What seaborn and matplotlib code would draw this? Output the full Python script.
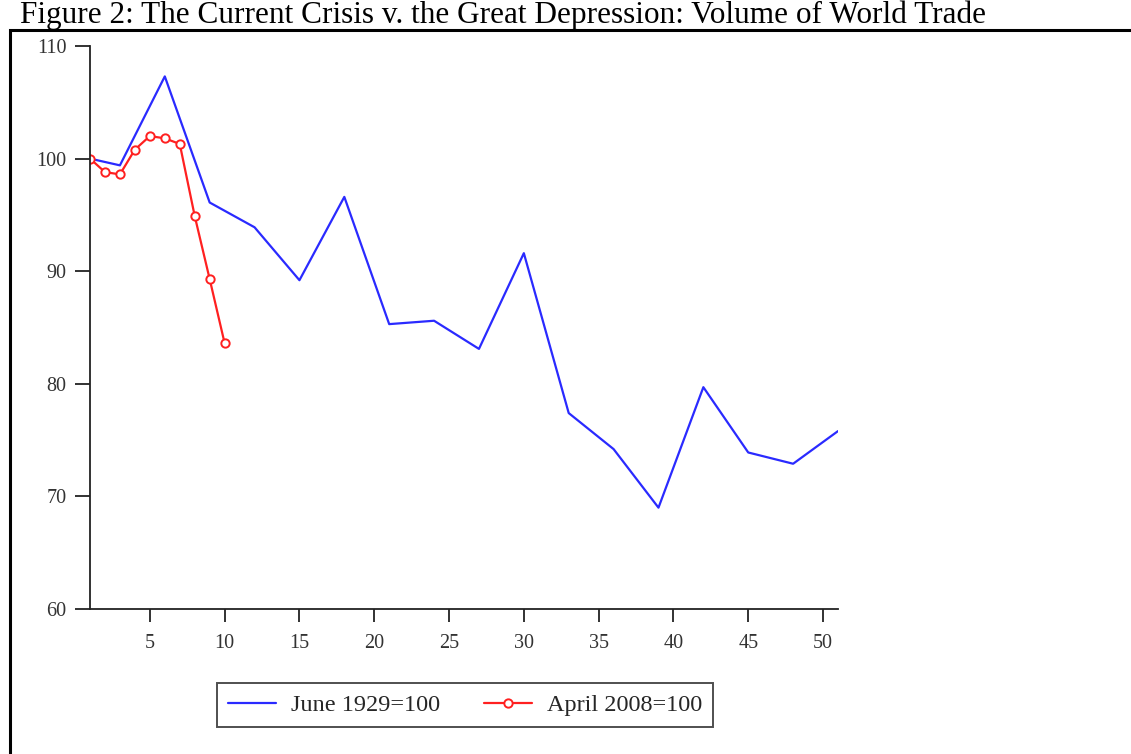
import matplotlib
matplotlib.use("Agg")
import matplotlib.pyplot as plt
import seaborn as sns
import pandas as pd
from matplotlib.patches import Rectangle

# Data (month index, index value)
months_1929 = [1, 3, 6, 9, 12, 15, 18, 21, 22, 24, 27, 30, 33, 36, 39, 42, 45, 48, 51]
trade_1929 = [100.0, 99.4, 107.3, 96.1, 93.9, 89.2, 96.6, 85.3, 85.4, 85.6, 83.1, 91.6,
              77.4, 74.2, 69.0, 79.7, 73.9, 72.9, 75.8]

months_2008 = [1, 2, 3, 4, 5, 6, 7, 8, 9, 10]
trade_2008 = [100.0, 98.8, 98.6, 100.8, 102.0, 101.8, 101.3, 94.9, 89.3, 83.6]

label_1929 = "June 1929=100"
label_2008 = "April 2008=100"
title = "Figure 2: The Current Crisis v. the Great Depression: Volume of World Trade"
x_ticks = [5, 10, 15, 20, 25, 30, 35, 40, 45, 50]
y_ticks = [60, 70, 80, 90, 100, 110]

sns.set_theme(style="ticks")
plt.rcParams['font.family'] = ['Liberation Serif', 'DejaVu Serif']

W, H = 1131, 754
fig = plt.figure(figsize=(W / 100, H / 100), dpi=100)
ax = fig.add_axes([90 / W, 1 - 609 / H, (838 - 90) / W, (609 - 46) / H])

df1 = pd.DataFrame({"x": months_1929, "y": trade_1929})
df2 = pd.DataFrame({"x": months_2008, "y": trade_2008})

sns.lineplot(data=df1, x="x", y="y", ax=ax, color="#2a2aff", lw=1.6, label=label_1929)
sns.lineplot(data=df2, x="x", y="y", ax=ax, color="#ff2020", lw=1.6, marker="o",
             markersize=6, markerfacecolor="white", markeredgecolor="#ff2020",
             markeredgewidth=1.4, label=label_2008)

ax.set_xlim(1, 51)
ax.set_ylim(60, 110)
ax.set_xticks(x_ticks)
ax.set_yticks(y_ticks)
ax.set_xlabel("")
ax.set_ylabel("")
for s in ["top", "right"]:
    ax.spines[s].set_visible(False)
for s in ["left", "bottom"]:
    ax.spines[s].set_color("#222222")
    ax.spines[s].set_linewidth(1.3)
ax.tick_params(axis="y", direction="out", length=11, width=1.3, color="#222222",
               labelsize=14.5, labelcolor="#333333", pad=6)
ax.tick_params(axis="x", direction="out", length=9, width=1.3, color="#222222",
               labelsize=14.5, labelcolor="#333333", pad=9)

leg = ax.legend(loc="center", bbox_to_anchor=((465 - 90) / (838 - 90), -(705 - 609) / (609 - 46)),
                ncol=2, frameon=True, fancybox=False, fontsize=17.5, handlelength=2.0,
                columnspacing=1.8, handletextpad=0.6, borderpad=0.45)
leg.get_frame().set_edgecolor("#222222")
leg.get_frame().set_linewidth(1.4)

# Outer border frame
top_px = 30
fig.patches.append(Rectangle((10 / W, -0.05), 1.2, 1 - top_px / H + 0.05, transform=fig.transFigure,
                             fill=False, edgecolor="black", lw=2.2, figure=fig))

fig.text(20 / W, 1 - 23 / H, title, fontsize=22.5, va="baseline", ha="left", color="black")

fig.savefig("out.png", dpi=100)
